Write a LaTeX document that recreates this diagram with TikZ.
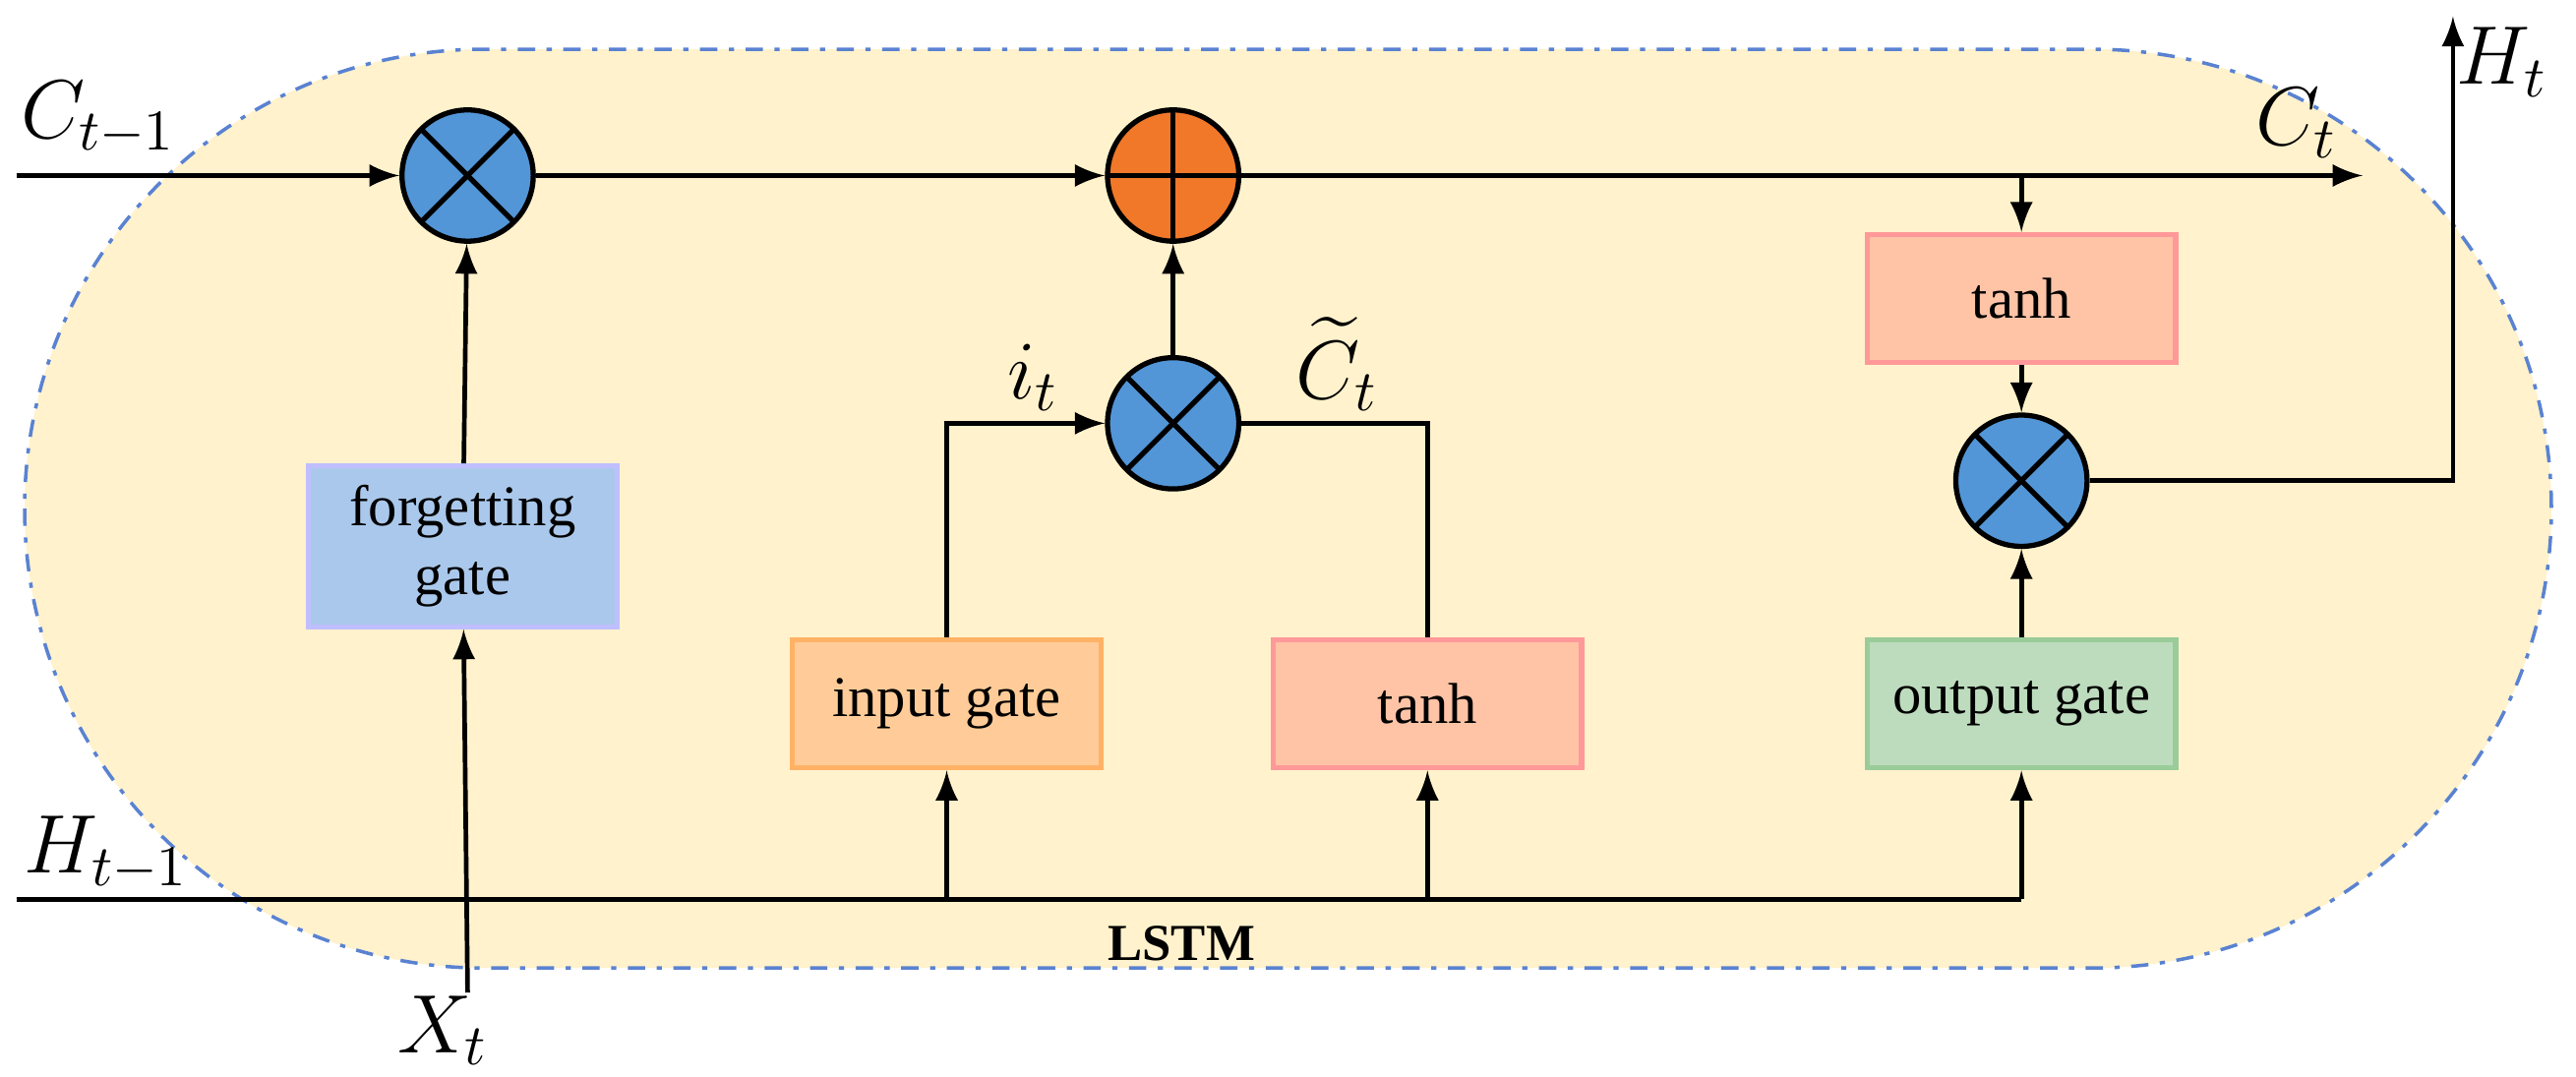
\documentclass[tikz,border=0pt]{standalone}
\usepackage{amsmath}
\usepackage{fontspec}
\setmainfont{Liberation Serif}
\usetikzlibrary{positioning}
\definecolor{bgyellow}{RGB}{255,242,204}
\definecolor{multblue}{RGB}{82,150,215}
\definecolor{addorange}{RGB}{240,120,40}
\definecolor{edgeblue}{RGB}{90,130,210}
\definecolor{forgetblue}{RGB}{170,200,235}
\tikzset{
  mult/.style={draw, circle, minimum size=0.8cm, fill=multblue, inner sep=0pt,
    path picture={\draw ([shift={(45:0.4)}]path picture bounding box.center) -- ([shift={(225:0.4)}]path picture bounding box.center);
                  \draw ([shift={(135:0.4)}]path picture bounding box.center) -- ([shift={(315:0.4)}]path picture bounding box.center);}},
  add/.style={draw, circle, minimum size=0.8cm, fill=addorange, inner sep=0pt,
    path picture={\draw (path picture bounding box.north) -- (path picture bounding box.south);
                  \draw (path picture bounding box.west) -- (path picture bounding box.east);}},
  gate/.style={minimum width=1.88cm, minimum height=0.78cm, align=center, font=\normalsize},
  line/.style={thick, -latex},
}
\begin{document}
\begin{tikzpicture}[line width=0.9pt]
  \useasboundingbox (0,0) rectangle (15.7,-6.56);
  % background cell
  \draw[edgeblue, dash dot, line width=0.6pt, fill=bgyellow, rounded corners=2.8cm] (0.15,-0.3) rectangle (15.55,-5.9);

  \node (m1) [mult] at (2.85,-1.07) {};
  \node (a1) [add] at (7.15,-1.07) {};
  \node (m2) [mult] at (7.15,-2.58) {};
  \node (m3) [mult] at (12.32,-2.93) {};
  \node (fg) [gate, fill=forgetblue, draw=blue!25] at (2.82,-3.33) {forgetting\\gate};
  \node (ig) [gate, fill=orange!40, draw=orange!60] at (5.77,-4.29) {input gate};
  \node (th1) [gate, fill=red!35!orange!35, draw=red!40] at (8.7,-4.29) {tanh};
  \node (og) [gate, fill=green!30!gray!40, draw=green!50!black!40] at (12.32,-4.29) {output gate};
  \node (th2) [gate, fill=red!35!orange!35, draw=red!40] at (12.32,-1.82) {tanh};

  \coordinate (cin) at (0.1,-1.07);
  \coordinate (cout) at (14.4,-1.07);
  \coordinate (hin) at (0.1,-5.48);
  \coordinate (xin) at (2.85,-6.05);
  \coordinate (hout) at (14.95,-0.1);

  \node at (0.6,-0.72) {\Large $C_{t-1}$};
  \node at (14.0,-0.75) {\Large $C_t$};
  \node at (15.25,-0.38) {\Large $H_t$};
  \node at (0.65,-5.2) {\Large $H_{t-1}$};
  \node at (2.7,-6.28) {\Large $X_t$};
  \node at (6.3,-2.3) {\Large $i_t$};
  \node at (8.15,-2.22) {\Large $\widetilde{C}_t$};
  \node at (7.2,-5.75) {\small\bfseries LSTM};

  \draw[line] (cin) -- (m1);
  \draw[line] (m1) -- (a1);
  \draw[line] (a1) -- (cout);
  \draw[line] (12.32,-1.07) -- (th2);
  \draw[line] (th2) -- (m3);
  \draw[line] (m3) -| (hout);
  \draw[line] (fg) -- (m1);
  \draw[line] (xin) -- (fg);
  \draw[line] (m2) -- (a1);
  \draw[line] (ig) |- (m2);
  \draw (th1) |- (m2);
  \draw[line] (og) -- (m3);
  \draw (hin) -- (12.32,-5.48);
  \draw[line] (5.77,-5.48) -- (ig);
  \draw[line] (8.7,-5.48) -- (th1);
  \draw[line] (12.32,-5.48) -- (og);
\end{tikzpicture}
\end{document}
